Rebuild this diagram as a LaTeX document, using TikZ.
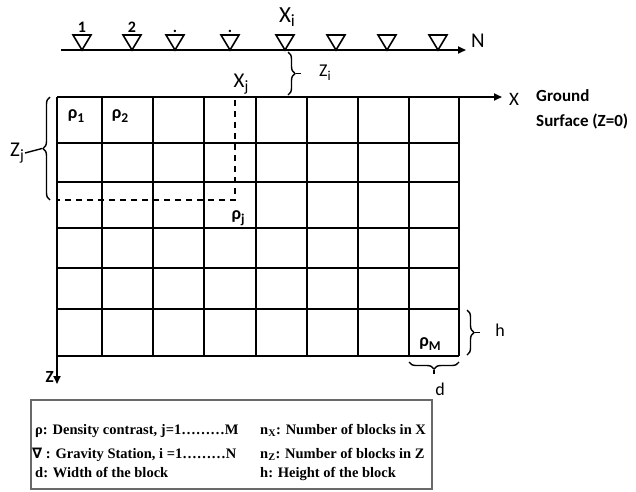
\documentclass[tikz,border=0pt]{standalone}
\usepackage{fontspec}
\setmainfont{Carlito}
\newfontfamily\legendfont{Liberation Serif}
\newfontfamily\symfont{DejaVu Sans}
\usetikzlibrary{arrows.meta,positioning,decorations.pathreplacing}
\definecolor{boxgray}{RGB}{105,105,105}
\newcommand{\station}[1]{%
  \draw[line width=1.6pt, line join=miter] #1 -- ++(-9,-15) -- ++(18,0) -- cycle;
}
\newcommand{\sub}[1]{\raisebox{-0.2em}{\scalebox{0.75}{#1}}}
\tikzset{
  axis/.style={line width=1.7pt, -{Triangle[length=8pt,width=7pt]}},
  gridline/.style={line width=1.7pt},
  dashline/.style={line width=1.7pt, dash pattern=on 6pt off 5pt},
  curly/.style={line width=1.4pt, decorate, decoration={brace, amplitude=7pt}},
  lbl/.style={font=\fontsize{18}{20}\selectfont, inner sep=1pt},
  legtxt/.style={font=\legendfont\bfseries\fontsize{14.5}{16}\selectfont, anchor=base west, inner sep=0pt},
}

\begin{document}
\begin{tikzpicture}[x=1pt, y=-1pt]
  \useasboundingbox (0,0) rectangle (636,491);
  % stations
  \coordinate (lstart) at (61,50);
  \coordinate (lend) at (466,50);
  \draw[axis] (lstart) -- (lend);
  \node[lbl, font=\fontsize{21}{23}\selectfont, right=4pt of lend, yshift=9pt] (N) {N};
  \foreach \x/\lab/\nm in {82/1/s1, 132/2/s2, 175/{\textbf{.}}/s3, 230/{\textbf{.}}/s4, 285//s5, 336//s6, 387//s7, 438//s8}{
    \station{(\x,50)}
    \node[lbl, font=\bfseries\fontsize{16}{18}\selectfont, anchor=south] (\nm) at (\x,34) {\lab};
  }
  \node[lbl, font=\fontsize{23}{25}\selectfont] (Xi) at (287,17) {X\sub{i}};
  % grid
  \foreach \x in {102,153,204,256,307,358,409,459}
    \draw[gridline] (\x,97) -- (\x,356);
  \foreach \y in {143,182,228,268,309,356}
    \draw[gridline] (57,\y) -- (459,\y);
  \coordinate (O) at (57,97);
  \coordinate (xend) at (502,97);
  \coordinate (zend) at (57,384);
  \draw[axis] (O) -- (xend);
  \draw[axis] (O) -- (zend);
  \node[lbl, font=\fontsize{19}{21}\selectfont, right=6pt of xend, yshift=-2pt] (X) {X};
  \node[lbl, font=\bfseries\fontsize{17}{19}\selectfont, anchor=west] (ground) at (535,96) {Ground};
  \node[lbl, font=\bfseries\fontsize{17}{19}\selectfont, anchor=west] (surf) at (535,121) {Surface (Z=0)};
  \node[lbl, font=\bfseries\fontsize{17}{19}\selectfont, left=2pt of zend, yshift=7pt] (Z) {Z};
  % cell labels
  \node[lbl, font=\bfseries\fontsize{18}{20}\selectfont] (r1) at (76,116) {ρ\sub{1}};
  \node[lbl, font=\bfseries\fontsize{18}{20}\selectfont] (r2) at (120,116) {ρ\sub{2}};
  \node[lbl, font=\bfseries\fontsize{18}{20}\selectfont] (rj) at (238,218) {ρ\sub{j}};
  \node[lbl, font=\bfseries\fontsize{18}{20}\selectfont] (rM) at (430,344) {ρ\sub{M}};
  % block j
  \coordinate (jtop) at (235,100);
  \coordinate (jcorner) at (235,200);
  \coordinate (jleft) at (57,200);
  \draw[dashline] (jtop) -- (jcorner) -- (jleft);
  \node[lbl, font=\fontsize{21}{23}\selectfont] (Xj) at (241,84) {X\sub{j}};
  % braces
  \draw[curly] (50,200) -- (50,97) coordinate[midway, xshift=-8pt] (zjtip);
  \node[lbl, font=\fontsize{21}{23}\selectfont] (Zj) at (17,153) {Z\sub{j}};
  \draw[line width=1.4pt] (Zj.east) -- (zjtip);
  \draw[curly] (288,52) -- (288,95) coordinate[midway, xshift=8pt] (zitip);
  \node[lbl, font=\fontsize{18}{20}\selectfont] (Zi) at (325,73) {Z\sub{i}};
  \draw[line width=1.4pt] (zitip) -- ++(5,0);
  \draw[curly] (467,310) -- (467,355) coordinate[midway, xshift=8pt] (htip);
  \node[lbl] (h) at (500,330) {h};
  \draw[line width=1.4pt] (htip) -- ++(5,0);
  \draw[curly] (459,362) -- (409,362) coordinate[midway, yshift=-8pt] (dtip);
  \node[lbl] (d) at (440,389) {d};
  \draw[line width=1.4pt] (dtip) -- ++(0,4);
  % legend
  \draw[boxgray, line width=1.2pt] (31,400) rectangle (432,489);
  \node[legtxt] (leg1) at (35,434) {ρ: Density contrast, j=1………M};
  \node[legtxt] (leg2) at (32,458) {{\symfont ∇} : Gravity Station, i =1………N};
  \node[legtxt] (leg3) at (35,477) {d: Width of the block};
  \node[legtxt] (leg4) at (260,434) {n\textsubscript{X}: Number of blocks in X};
  \node[legtxt] (leg5) at (260,458) {n\textsubscript{Z}: Number of blocks in Z};
  \node[legtxt] (leg6) at (260,477) {h: Height of the block};
\end{tikzpicture}
\end{document}
